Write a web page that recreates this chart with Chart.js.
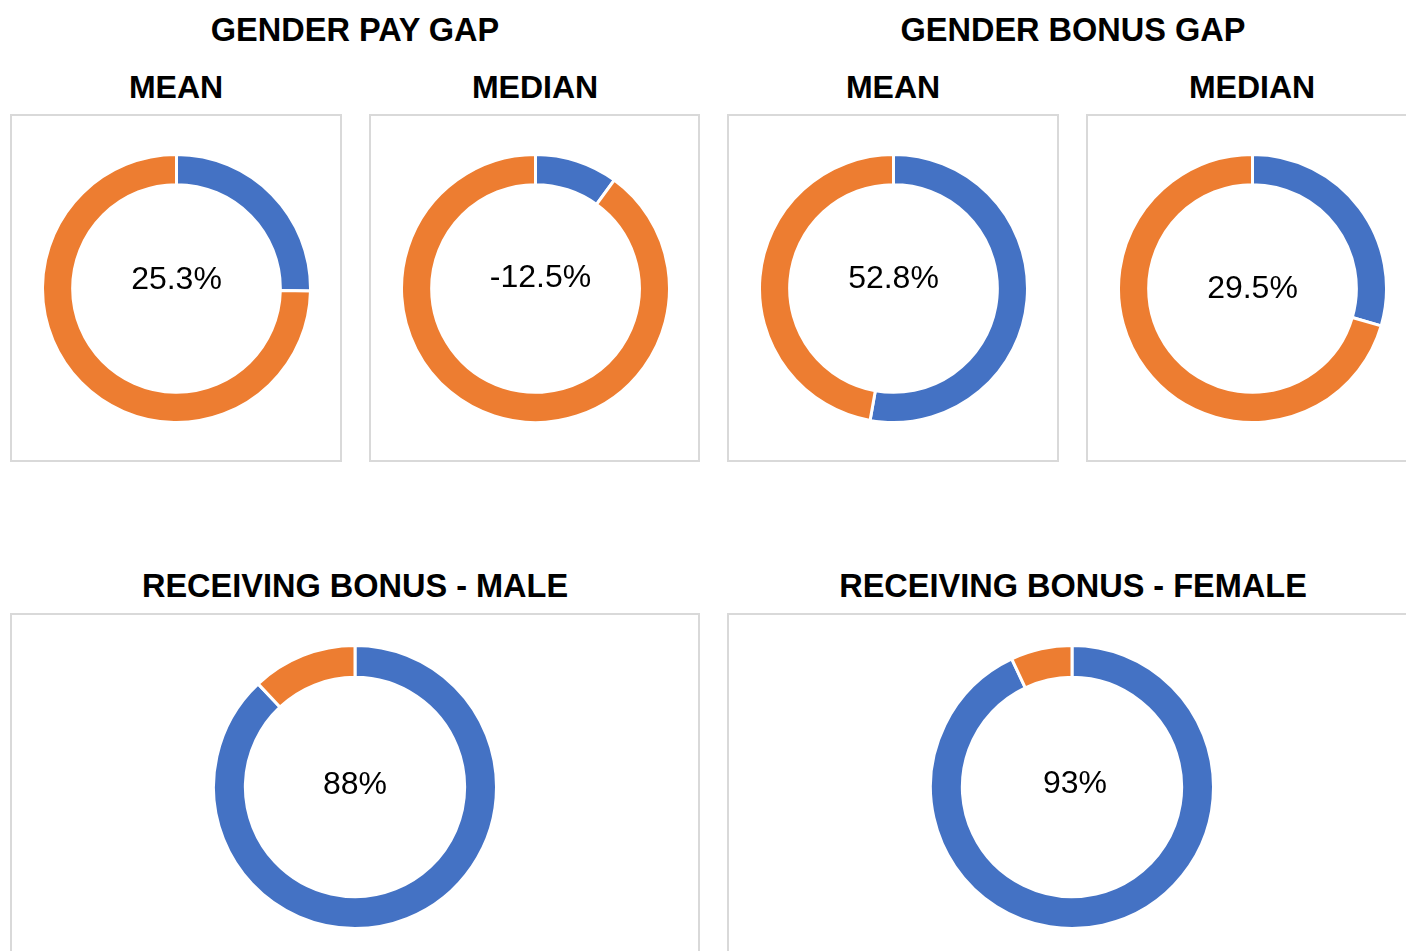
<!DOCTYPE html>
<html>
<head>
<meta charset="utf-8">
<script src="https://cdn.jsdelivr.net/npm/chart.js@4/dist/chart.umd.min.js"></script>
<style>
  body { margin: 0; background: #fff; font-family: "Liberation Sans", Arial, sans-serif; }
  #page { position: relative; width: 1406px; height: 951px; overflow: hidden; }
  .head { position: absolute; font-weight: bold; color: #000; white-space: nowrap; transform: translate(-50%, -50%); }
  .big { font-size: 32.5px; }
  .sub { font-size: 32px; }
  .box { position: absolute; border: 2px solid #d9d9d9; box-sizing: border-box; }
  .holder { position: absolute; }
</style>
</head>
<body>
<div id="page">
  <div class="head big" style="left:355px;top:30px">GENDER PAY GAP</div>
  <div class="head big" style="left:1073px;top:30px">GENDER BONUS GAP</div>
  <div class="head sub" style="left:176px;top:87px">MEAN</div>
  <div class="head sub" style="left:535px;top:87px">MEDIAN</div>
  <div class="head sub" style="left:893px;top:87px">MEAN</div>
  <div class="head sub" style="left:1252px;top:87px">MEDIAN</div>
  <div class="head big" style="left:355px;top:586px">RECEIVING BONUS - MALE</div>
  <div class="head big" style="left:1073px;top:586px">RECEIVING BONUS - FEMALE</div>

  <div class="box" style="left:10px;top:114px;width:332px;height:348px"></div>
  <div class="box" style="left:369px;top:114px;width:331px;height:348px"></div>
  <div class="box" style="left:727px;top:114px;width:332px;height:348px"></div>
  <div class="box" style="left:1086px;top:114px;width:340px;height:348px"></div>
  <div class="box" style="left:10px;top:613px;width:690px;height:360px"></div>
  <div class="box" style="left:727px;top:613px;width:700px;height:360px"></div>

  <div class="holder" style="left:41px;top:153px"><canvas id="c1" width="271" height="271"></canvas></div>
  <div class="holder" style="left:400px;top:153px"><canvas id="c2" width="271" height="271"></canvas></div>
  <div class="holder" style="left:758px;top:153px"><canvas id="c3" width="271" height="271"></canvas></div>
  <div class="holder" style="left:1117px;top:153px"><canvas id="c4" width="271" height="271"></canvas></div>
  <div class="holder" style="left:212px;top:644px"><canvas id="c5" width="286" height="286"></canvas></div>
  <div class="holder" style="left:929px;top:644px"><canvas id="c6" width="286" height="286"></canvas></div>
</div>
<script>
// blue = first slice, orange = the rest of the ring
var segmentNames = ['Value', 'Remainder'];
var chartIds = ['c1', 'c2', 'c3', 'c4', 'c5', 'c6'];
var blueValues = [25.3, 10, 52.8, 29.5, 88, 93];
var orangeValues = [74.7, 90, 47.2, 70.5, 12, 7];
var centerLabels = ['25.3%', '-12.5%', '52.8%', '29.5%', '88%', '93%'];
// nudge of the centre label, like the hand placed labels in the sheet
var labelNudge = [[0, -8], [5, -10], [0, -9], [0, 1], [0, -2], [3, -3]];

var centerText = {
  id: 'centerText',
  afterDraw: function(chart, args, opts) {
    var ctx = chart.ctx;
    var area = chart.chartArea;
    var x = (area.left + area.right) / 2 + opts.dx;
    var y = (area.top + area.bottom) / 2 + opts.dy;
    ctx.save();
    ctx.font = '32px "Liberation Sans", Arial, sans-serif';
    ctx.fillStyle = '#000';
    ctx.textAlign = 'center';
    ctx.textBaseline = 'middle';
    ctx.fillText(opts.text, x, y);
    ctx.restore();
  }
};

chartIds.forEach(function(id, i) {
  var ctx = document.getElementById(id).getContext('2d');
  new Chart(ctx, {
    type: 'doughnut',
    data: {
      labels: segmentNames,
      datasets: [
        {
          data: [blueValues[i], orangeValues[i]],
          backgroundColor: ['#4472C4', '#ED7D31'],
          borderColor: '#ffffff',
          borderWidth: 3
        }
      ]
    },
    options: {
      responsive: false,
      animation: false,
      cutout: '77.5%',
      plugins: {
        legend: { display: false },
        tooltip: { enabled: false },
        centerText: { text: centerLabels[i], dx: labelNudge[i][0], dy: labelNudge[i][1] }
      }
    },
    plugins: [centerText]
  });
});
</script>
</body>
</html>
